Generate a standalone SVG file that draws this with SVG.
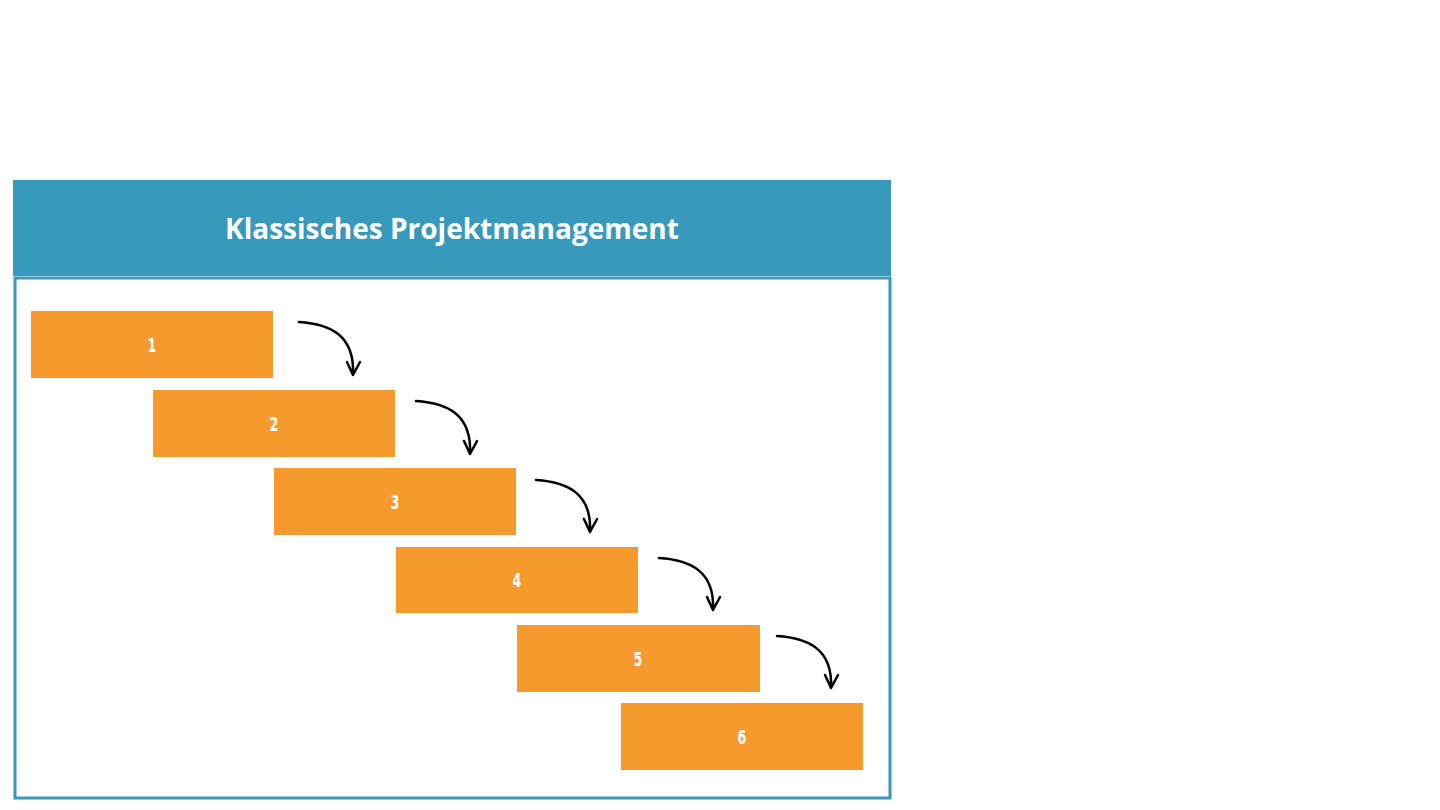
<svg xmlns="http://www.w3.org/2000/svg" width="1440" height="810" viewBox="0 0 1440 810">
<style>
.step{fill:#f79a2e}
.num{fill:#fff;font-family:"DejaVu Sans Condensed","DejaVu Sans",sans-serif;font-weight:bold;font-size:20px;text-anchor:middle}
.arr{fill:none;stroke:#000;stroke-width:2.5;stroke-linecap:round;stroke-linejoin:round}
</style>
<rect width="1440" height="810" fill="#fff"/>
<g id="frame">
<rect x="15" y="278" width="875" height="520" fill="#fff" stroke="#3799bc" stroke-width="3"/>
<rect x="13" y="180" width="878" height="96" fill="#3799bc"/>
<text x="452" y="239" fill="#fff" font-family="'Open Sans',sans-serif" font-weight="bold" font-size="28" text-anchor="middle">Klassisches Projektmanagement</text>
</g>
<g id="s1"><rect class="step" x="31" y="311" width="242" height="67"/><text class="num" x="152" y="352" transform="translate(152 0) scale(0.7 1) translate(-152 0)">1</text></g>
<g id="s2"><rect class="step" x="153" y="390" width="242" height="67"/><text class="num" x="274" y="431" transform="translate(274 0) scale(0.7 1) translate(-274 0)">2</text></g>
<g id="s3"><rect class="step" x="274" y="468" width="242" height="67"/><text class="num" x="395" y="509" transform="translate(395 0) scale(0.7 1) translate(-395 0)">3</text></g>
<g id="s4"><rect class="step" x="396" y="547" width="242" height="66"/><text class="num" x="517" y="587" transform="translate(517 0) scale(0.7 1) translate(-517 0)">4</text></g>
<g id="s5"><rect class="step" x="517" y="625" width="243" height="67"/><text class="num" x="638" y="666" transform="translate(638 0) scale(0.7 1) translate(-638 0)">5</text></g>
<g id="s6"><rect class="step" x="621" y="703" width="242" height="67"/><text class="num" x="742" y="744" transform="translate(742 0) scale(0.7 1) translate(-742 0)">6</text></g>
<g id="connectors">
<path class="arr" d="M299 322 C330 324 355 335 353 375 M347 362 L353 375 L360 362"/>
<path class="arr" d="M416 401 C447 403 472 414 470 454 M464 441 L470 454 L477 441"/>
<path class="arr" d="M536 480 C567 482 592 493 590 532 M584 519 L590 532 L597 519"/>
<path class="arr" d="M659 558 C690 560 715 571 713 610 M707 597 L713 610 L720 597"/>
<path class="arr" d="M777 636 C808 638 833 649 831 688 M825 675 L831 688 L838 675"/>
</g>
</svg>
